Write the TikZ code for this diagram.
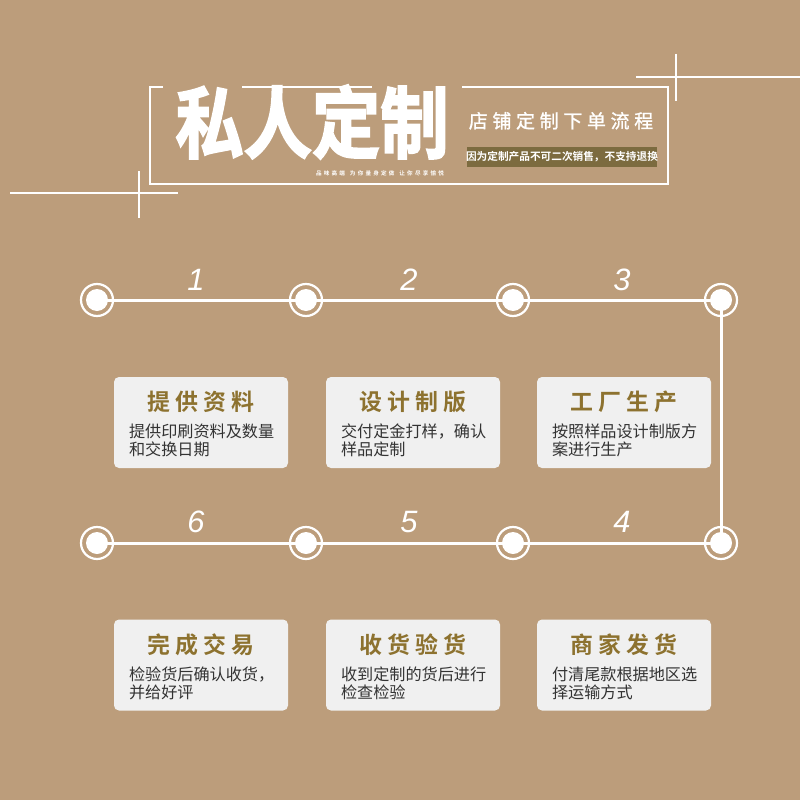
\documentclass[tikz,border=0pt]{standalone}
\usepackage{fontspec}
\usepackage{graphicx}
\newfontfamily\cjk{Noto Sans CJK SC}
\newfontfamily\cjkbold{Noto Sans CJK SC Bold}
\newfontfamily\cjkmid{Noto Sans CJK SC}[FakeBold=1.2]
\newfontfamily\cjkheavy{Noto Sans CJK SC Bold}[FakeBold=2.5]
\newfontfamily\numfont{Liberation Sans}
\definecolor{bg}{HTML}{BC9D7B}
\definecolor{cardfill}{HTML}{F0F0F0}
\definecolor{gold}{HTML}{8D722F}
\definecolor{desc}{HTML}{333333}
\definecolor{olive}{HTML}{7C6B3F}
% letter spacing helper: \spc{gap}text\relax
\def\spc#1#2{#2\def\spcgap{#1}\spcnext}
\def\spcnext#1{\ifx#1\relax\else\hspace{\spcgap}#1\expandafter\spcnext\fi}
\tikzset{
  frameline/.style={draw=white, line width=2bp},
  crossline/.style={draw=white, line width=1.5bp},
  flow/.style={draw=white, line width=3bp},
  ring/.style={circle, draw=white, line width=2.2bp, minimum size=32bp, inner sep=0pt},
  dot/.style={circle, fill=white, minimum size=22bp, inner sep=0pt},
  stepnum/.style={font=\numfont\itshape\fontsize{31}{31}\selectfont, text=white, inner sep=0pt, anchor=base},
  card/.style={fill=cardfill, rounded corners=5bp, minimum width=174bp, minimum height=91bp, inner sep=0pt},
  cardtitle/.style={font=\cjkbold\fontsize{23}{23}\selectfont, text=gold, inner sep=0pt, anchor=base},
  carddesc/.style={font=\cjk\fontsize{16.2}{16.2}\selectfont, text=desc, inner sep=0pt, anchor=base west},
}
\begin{document}
\begin{tikzpicture}[x=1bp,y=-1bp]
\fill[bg] (0,0) rectangle (800,800);
\useasboundingbox (0,0) rectangle (800,800);

% ---------- header ----------
\draw[crossline] (636,77) -- (800,77);
\draw[crossline] (676,54) -- (676,101);
\draw[crossline] (10,193) -- (178,193);
\draw[crossline] (139,171) -- (139,218);

\draw[frameline] (163,87) -- (150,87) -- (150,184) -- (668,184) -- (668,87) -- (462,87);
\draw[frameline] (242,87) -- (372,87);

\node[text=white, inner sep=0pt, font=\cjkheavy\fontsize{70}{70}\selectfont] (bigtitle) at (312,122)
  {\scalebox{0.98}[1.12]{\spc{0bp}私人定制\relax}};
\node[text=white, inner sep=0pt, anchor=base, font=\cjkbold\fontsize{5.6}{5.6}\selectfont] (tagline) at (380,175)
  {\spc{2.2bp}品味高端\relax\hspace{5bp}\spc{2.2bp}为你量身定做\relax\hspace{5bp}\spc{2.2bp}让你尽享愉悦\relax};

\node[text=white, inner sep=0pt, anchor=base, font=\cjkmid\fontsize{19}{19}\selectfont] (subtitle) at (561,128)
  {\spc{4.7bp}店铺定制下单流程\relax};
\node[fill=olive, minimum width=190bp, minimum height=20bp, inner sep=0pt] (notebox) at (562,156.5) {};
\node[text=white, inner sep=0pt, anchor=base, font=\cjkbold\fontsize{10.7}{10.7}\selectfont] (notetext) at (562,160.5)
  {因为定制产品不可二次销售，不支持退换};

% ---------- flow ----------
\node[ring] (c1) at (97,300) {};
\node[ring] (c2) at (306,300) {};
\node[ring] (c3) at (513,300) {};
\node[ring] (c4) at (721,300) {};
\node[ring] (c5) at (721,543) {};
\node[ring] (c6) at (513,543) {};
\node[ring] (c7) at (306,543) {};
\node[ring] (c8) at (97,543) {};
\draw[flow] (c1.center) -- (c2.center) -- (c3.center) -- (c4.center) -- (c5.center)
  -- (c6.center) -- (c7.center) -- (c8.center);
\foreach \i in {1,...,8} { \node[dot] (d\i) at (c\i) {}; }

\node[stepnum] (n1) at (196,290) {1};
\node[stepnum] (n2) at (409,290) {2};
\node[stepnum] (n3) at (622,290) {3};
\node[stepnum] (n4) at (622,532) {4};
\node[stepnum] (n5) at (409,532) {5};
\node[stepnum] (n6) at (196,532) {6};

% ---------- cards ----------
\newcommand\mycard[6]{%
  \node[card] (#1) at (#2,#3) {};
  \node[cardtitle] (#1t) at ([yshift=-34bp]#1.north) {\spc{5bp}#4\relax};
  \node[carddesc] (#1a) at ([xshift=15bp,yshift=-61bp]#1.north west) {#5};
  \node[carddesc] (#1b) at ([xshift=15bp,yshift=-79bp]#1.north west) {#6};
}
\mycard{k1}{201}{422.5}{提供资料}{提供印刷资料及数量}{和交换日期}
\mycard{k2}{413}{422.5}{设计制版}{交付定金打样，确认}{样品定制}
\mycard{k3}{624}{422.5}{工厂生产}{按照样品设计制版方}{案进行生产}
\mycard{k6}{201}{665}{完成交易}{检验货后确认收货，}{并给好评}
\mycard{k5}{413}{665}{收货验货}{收到定制的货后进行}{检查检验}
\mycard{k4}{624}{665}{商家发货}{付清尾款根据地区选}{择运输方式}
\end{tikzpicture}
\end{document}
